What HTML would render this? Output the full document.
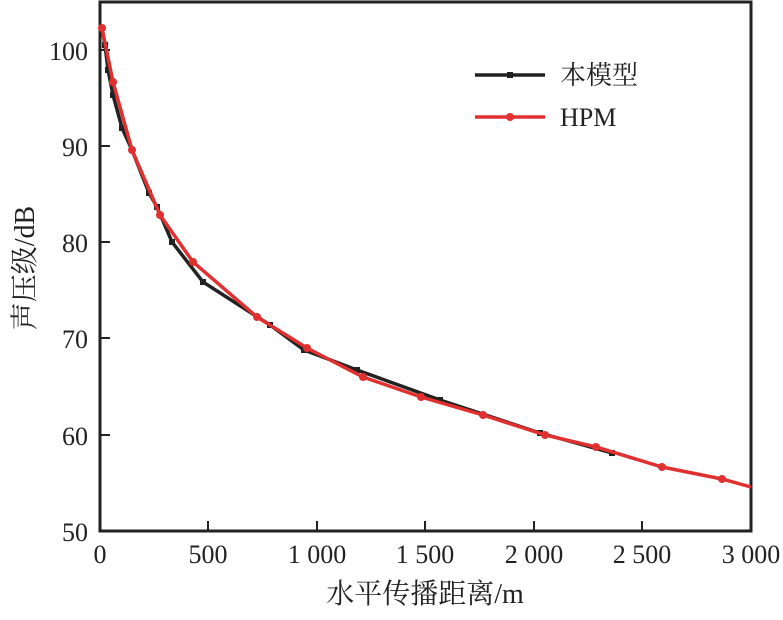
<!DOCTYPE html>
<html><head><meta charset="utf-8"><style>
body{margin:0;background:#fff}
text{font-family:"Liberation Serif","Noto Serif CJK SC",serif;fill:#222}
</style></head><body>
<svg width="783" height="615" xmlns="http://www.w3.org/2000/svg">
<rect x="100" y="2" width="651" height="529" fill="none" stroke="#222" stroke-width="3"/>
<g stroke="#222" stroke-width="2">
<line x1="100" y1="435" x2="110" y2="435"/><line x1="100" y1="338" x2="110" y2="338"/>
<line x1="100" y1="242" x2="110" y2="242"/><line x1="100" y1="146" x2="110" y2="146"/>
<line x1="100" y1="50" x2="110" y2="50"/>
<line x1="208" y1="531" x2="208" y2="521"/><line x1="317" y1="531" x2="317" y2="521"/>
<line x1="425" y1="531" x2="425" y2="521"/><line x1="534" y1="531" x2="534" y2="521"/>
<line x1="642" y1="531" x2="642" y2="521"/>
</g>
<g font-size="26" text-anchor="end">
<text x="88" y="541">50</text><text x="88" y="445">60</text><text x="88" y="348">70</text>
<text x="88" y="252">80</text><text x="88" y="156">90</text><text x="88" y="60">100</text>
</g>
<g font-size="26" text-anchor="middle">
<text x="100" y="563">0</text><text x="208" y="563">500</text><text x="317" y="563">1 000</text>
<text x="425" y="563">1 500</text><text x="534" y="563">2 000</text><text x="642" y="563">2 500</text>
<text x="751" y="563">3 000</text>
</g>
<text x="425" y="603" font-size="28" text-anchor="middle">水平传播距离/m</text>
<text transform="translate(34,268) rotate(-90)" font-size="28" text-anchor="middle">声压级/dB</text>
<polyline fill="none" stroke="#222" stroke-width="3.5" points="102,28 105,45 108,70 113,95 122,128 132,150 149,193 157,207 172,242 203,282 270,325 304,350 357,370 440,400 540,433 612,453"/>
<g fill="#222">
<rect x="99" y="25" width="6" height="6"/><rect x="102" y="42" width="6" height="6"/><rect x="105" y="67" width="6" height="6"/><rect x="110" y="92" width="6" height="6"/><rect x="119" y="125" width="6" height="6"/><rect x="129" y="147" width="6" height="6"/><rect x="146" y="190" width="6" height="6"/><rect x="154" y="204" width="6" height="6"/><rect x="169" y="239" width="6" height="6"/><rect x="200" y="279" width="6" height="6"/><rect x="267" y="322" width="6" height="6"/><rect x="301" y="347" width="6" height="6"/><rect x="354" y="367" width="6" height="6"/><rect x="437" y="397" width="6" height="6"/><rect x="537" y="430" width="6" height="6"/><rect x="609" y="450" width="6" height="6"/>
</g>
<polyline fill="none" stroke="#e03030" stroke-width="3.5" points="102,28 113,82 132,150 160,215 193,262 257,317 307,348 363,377 421,397 483,415 545,435 596,447 662,467 722,479 751,487"/>
<g fill="#e03030">
<circle cx="102" cy="28" r="4"/><circle cx="113" cy="82" r="4"/><circle cx="132" cy="150" r="4"/><circle cx="160" cy="215" r="4"/><circle cx="193" cy="262" r="4"/><circle cx="257" cy="317" r="4"/><circle cx="307" cy="348" r="4"/><circle cx="363" cy="377" r="4"/><circle cx="421" cy="397" r="4"/><circle cx="483" cy="415" r="4"/><circle cx="545" cy="435" r="4"/><circle cx="596" cy="447" r="4"/><circle cx="662" cy="467" r="4"/><circle cx="722" cy="479" r="4"/>
</g>
<line x1="475" y1="75" x2="545" y2="75" stroke="#222" stroke-width="3.5"/><rect x="507" y="72" width="6" height="6" fill="#222"/>
<line x1="475" y1="117" x2="545" y2="117" stroke="#e03030" stroke-width="3.5"/><circle cx="510" cy="117" r="4" fill="#e03030"/>
<text x="560" y="84" font-size="26">本模型</text>
<text x="560" y="126" font-size="26">HPM</text>
</svg>
</body></html>
